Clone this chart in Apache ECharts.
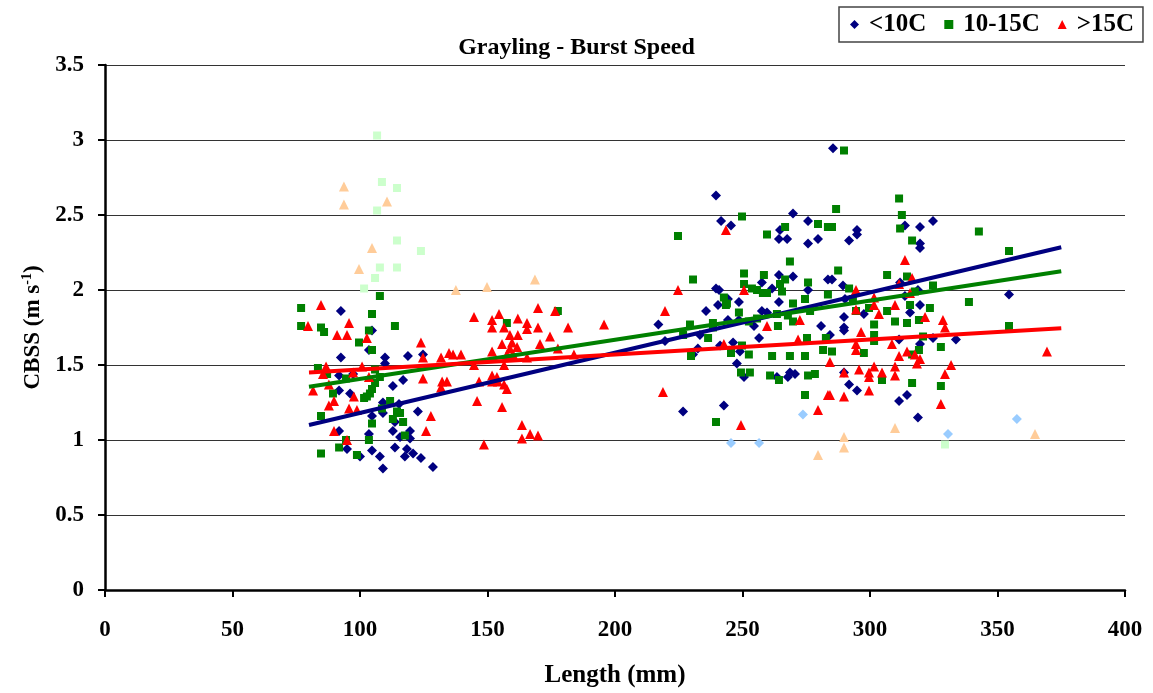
<!DOCTYPE html>
<html><head><meta charset="utf-8">
<script src="https://cdn.jsdelivr.net/npm/echarts@6/dist/echarts.min.js"></script>
<style>html,body{margin:0;padding:0;background:#fff}#c{width:1153px;height:693px}</style>
</head><body><div id="c"></div>
<script>
const xTicks = [0,50,100,150,200,250,300,350,400];
const yTicks = [0,0.5,1,1.5,2,2.5,3,3.5];
const legendNames = ['<10C','10-15C','>15C'];

const below10 = [
[92.5,1.86],[104.7,1.73],[103.5,1.60],[92.5,1.55],[109.8,1.55],[109.8,1.51],[118.8,1.56],[124.7,1.57],[91.8,1.43],[97.3,1.44],[91.8,1.33],[96.1,1.31],[112.9,1.36],[116.9,1.40],[109.0,1.25],[115.3,1.24],[122.7,1.19],[109.0,1.18],[104.7,1.16],[113.7,1.12],[112.9,1.06],[119.6,1.06],[91.8,1.06],[103.5,1.04],[119.6,1.01],[115.7,1.02],[94.9,0.94],[104.7,0.93],[113.7,0.95],[118.4,0.94],[100,0.89],[107.8,0.89],[117.6,0.89],[120.8,0.91],[123.9,0.88],[109,0.81],[128.6,0.82],
[217,1.77],[226.7,1.19],
[239.6,2.63],[241.6,2.46],[245.5,2.43],[269.8,2.51],[275.7,2.46],[264.7,2.40],[264.3,2.34],[267.5,2.34],[275.7,2.31],[279.6,2.34],[264.3,2.10],[269.8,2.09],[239.6,2.01],[240.8,2.0],[257.6,2.05],[261.6,2.01],[275.7,2.0],[283.5,2.07],[248.6,1.92],[264.3,1.92],[244.3,1.94],
[235.7,1.86],[240.4,1.90],[257.6,1.86],[259.6,1.85],[244.3,1.80],[248.6,1.80],[254.5,1.76],[280.8,1.76],[219.6,1.66],[233.3,1.70],[256.5,1.68],[232.5,1.61],[241.2,1.63],[246.3,1.65],[249,1.59],[230.6,1.57],[247.8,1.51],[250.6,1.42],[263.5,1.42],[267.8,1.42],[268.6,1.45],[270.6,1.44],[242.7,1.23],
[285.5,2.945],[294.9,2.40],[294.9,2.37],[291.8,2.33],[313.7,2.43],[319.6,2.42],[324.7,2.46],[319.6,2.31],[319.6,2.28],[285.1,2.07],[289.4,2.03],[290.2,1.94],[311.8,2.05],[313.7,1.96],[318.8,2.0],[319.6,1.90],
[289.8,1.82],[297.6,1.84],[315.7,1.85],[289.8,1.75],[289.8,1.73],[284.3,1.70],[311.4,1.67],[319.6,1.64],[324.7,1.68],[333.7,1.67],[289.8,1.45],[291.8,1.37],[294.9,1.33],[314.5,1.30],[311.4,1.26],[318.8,1.15],[354.5,1.97]
];
const from10to15 = [
[107.8,1.96],[76.9,1.88],[104.7,1.84],[76.9,1.76],[84.7,1.75],[85.9,1.72],[113.7,1.76],[103.5,1.73],[99.6,1.65],[104.7,1.60],[83.5,1.48],[105.9,1.47],[87.1,1.44],[94.5,1.41],[107.8,1.42],[105.9,1.38],[104.7,1.34],[89.4,1.31],[103.9,1.31],[102.7,1.29],[101.6,1.28],[111.8,1.26],[108.6,1.21],[84.7,1.16],[114.5,1.19],[115.7,1.18],[112.9,1.14],[116.9,1.12],[104.7,1.11],[117.6,1.03],[103.5,1.0],[94.5,1.0],[91.8,0.95],[84.7,0.91],[98.8,0.90],
[157.6,1.78],[177.6,1.86],
[224.7,2.36],[249.8,2.49],[266.7,2.42],[259.6,2.37],[279.6,2.44],[283.5,2.42],[268.6,2.19],[230.6,2.07],[250.6,2.11],[258.4,2.10],[250.6,2.04],[266.7,2.07],[264.7,2.04],[275.7,2.05],[253.7,2.01],[255.7,2.0],[258,1.98],[259.6,1.98],[265.5,1.99],[242.7,1.95],[243.9,1.91],[269.8,1.91],[274.5,1.94],[283.5,1.97],
[243.5,1.90],[248.6,1.85],[263.5,1.84],[267.8,1.83],[276.5,1.86],[229.4,1.77],[238.4,1.78],[238.4,1.75],[252.5,1.79],[255.7,1.81],[263.9,1.76],[269.8,1.79],[226.7,1.70],[236.5,1.68],[275.3,1.68],[282.7,1.68],[281.6,1.60],[249.8,1.63],[229.8,1.56],[245.5,1.58],[252.5,1.57],[261.6,1.56],[268.6,1.56],[274.5,1.56],[249.4,1.45],[252.9,1.45],[260.8,1.43],[264.3,1.40],[275.7,1.43],[278.4,1.44],[274.5,1.30],[239.6,1.12],
[289.8,2.93],[311.4,2.61],[286.7,2.54],[312.5,2.50],[285.1,2.42],[311.8,2.41],[342.7,2.39],[316.5,2.33],[287.5,2.13],[306.7,2.10],[314.5,2.09],[324.7,2.03],[291.8,2.01],[317.6,1.99],[293.3,1.94],[338.8,1.92],[315.7,1.90],
[294.5,1.86],[299.6,1.88],[306.7,1.86],[323.5,1.88],[301.6,1.77],[309.8,1.79],[314.5,1.78],[319.2,1.80],[301.6,1.70],[301.6,1.66],[320.8,1.69],[327.8,1.62],[285.1,1.59],[297.6,1.58],[319.2,1.60],[316.5,1.57],[304.7,1.40],[316.5,1.38],[327.8,1.36],
[354.5,2.26],[354.5,1.76]
];
const above15 = [
[84.7,1.90],[95.7,1.78],[79.6,1.76],[91,1.70],[94.9,1.70],[102.7,1.68],[123.9,1.65],[124.7,1.55],[131.8,1.55],[134.9,1.58],[136.5,1.57],[86.7,1.49],[100.8,1.49],[85.5,1.44],[97.3,1.45],[103.5,1.42],[124.7,1.41],[132.2,1.39],[134.1,1.39],[131.8,1.35],[87.8,1.37],[81.6,1.33],[97.6,1.29],[89.8,1.26],[87.8,1.23],[95.7,1.21],[98.8,1.20],[127.8,1.16],[89.8,1.06],[125.9,1.06],[94.9,1.0],
[169.8,1.88],[176.5,1.86],[144.7,1.82],[154.5,1.84],[151.8,1.80],[161.9,1.81],[165.5,1.78],[151.8,1.75],[156.5,1.75],[165.5,1.74],[169.8,1.75],[181.6,1.75],[195.7,1.77],[158.8,1.70],[161.9,1.70],[174.5,1.69],[159.6,1.65],[155.7,1.64],[170.6,1.64],[161.6,1.62],[158.8,1.61],[151.8,1.59],[177.6,1.61],[157.6,1.57],[160,1.57],[139.6,1.57],[165.5,1.55],[183.9,1.57],[144.7,1.50],[156.5,1.50],[151.8,1.43],[153.7,1.42],[146.7,1.39],[151.8,1.39],[154.1,1.39],[156.5,1.37],[157.6,1.34],[145.9,1.26],[155.7,1.22],[163.5,1.10],[163.5,1.01],[166.7,1.04],[169.8,1.03],[148.6,0.97],
[219.6,1.86],[218.8,1.32],[243.5,2.40],[224.7,2.0],[250.6,2.0],[272.5,1.80],[259.6,1.76],[271.8,1.67],[242.7,1.64],[279.6,1.20],[249.4,1.10],[283.5,1.30],
[313.7,2.20],[311.4,2.04],[316.5,2.08],[294.5,2.0],[301.6,1.95],[315.7,1.98],[309.8,1.90],[301.6,1.90],
[294.5,1.87],[303.5,1.84],[321.6,1.82],[328.6,1.80],[329.4,1.75],[296.5,1.72],[294.5,1.64],[294.5,1.60],[308.6,1.64],[314.5,1.59],[317.6,1.57],[311.4,1.56],[319.6,1.54],[318.4,1.51],[284.3,1.52],[331.8,1.50],[295.7,1.47],[301.6,1.49],[309.8,1.49],[289.8,1.45],[299.6,1.45],[304.7,1.45],[309.8,1.43],[299.6,1.42],[329.4,1.44],[284.3,1.30],[289.8,1.29],[299.6,1.33],[327.8,1.24],[369.4,1.59]
];
const below10Excluded = [[273.7,1.17],[245.5,0.98],[256.5,0.98],[330.6,1.04],[357.6,1.14]];
const from10to15Excluded = [[106.7,3.03],[108.6,2.72],[114.5,2.68],[106.7,2.53],[114.5,2.33],[123.9,2.26],[107.8,2.15],[114.5,2.15],[105.9,2.08],[101.6,2.01],[329.4,0.97]];
const above15Excluded = [[93.7,2.69],[93.7,2.57],[110.6,2.59],[104.7,2.28],[99.6,2.14],[137.6,2.0],[149.8,2.02],[168.6,2.07],[279.6,0.90],[289.8,1.02],[289.8,0.95],[309.8,1.08],[364.7,1.04]];
const below10Trend = [[80,1.10],[375,2.285]];
const from10to15Trend = [[80,1.355],[375,2.125]];
const above15Trend = [[80,1.45],[375,1.745]];

const FONT = '"Liberation Serif","DejaVu Serif",serif';
const chart = echarts.init(document.getElementById('c'));
function sc(name, data, color, symbol, size){
  return {name, type:'scatter', data, symbol, symbolSize:size, itemStyle:{color, opacity:1}, z:2, animation:false, silent:true};
}
function ln(data, color){
  return {type:'line', data, symbol:'none', lineStyle:{color, width:4}, z:5, animation:false, silent:true};
}
chart.setOption({
  animation:false,
  backgroundColor:'#fff',
  title:{text:'Grayling - Burst Speed', left:'center', top:31, textStyle:{fontFamily:FONT, fontWeight:'bold', fontSize:24, color:'#000'}},
  legend:{data:[{name:legendNames[0], icon:'diamond'},{name:legendNames[1], icon:'rect'},{name:legendNames[2], icon:'triangle'}],
    left:839, top:7, itemWidth:9, itemHeight:9, itemGap:18, padding:[5,9,5,11],
    borderColor:'#444', borderWidth:1.5,
    textStyle:{fontFamily:FONT, fontWeight:'bold', fontSize:25, color:'#000', padding:[0,0,0,5]}},
  grid:{left:105, right:28, top:65, bottom:98, containLabel:false},
  xAxis:{type:'value', min:0, max:400, interval:50,
    name:'Length (mm)', nameLocation:'middle', nameGap:73,
    nameTextStyle:{fontFamily:FONT, fontWeight:'bold', fontSize:25, color:'#000'},
    axisLine:{show:true, onZero:false, lineStyle:{color:'#000', width:2.5}},
    axisTick:{show:true, inside:false, length:7, lineStyle:{color:'#000', width:2}},
    axisLabel:{fontFamily:FONT, fontWeight:'bold', fontSize:23, color:'#000', margin:29, formatter:v=>String(v)},
    splitLine:{show:false}},
  yAxis:{type:'value', min:0, max:3.5, interval:0.5,
    name:'CBSS (m s{sup|-1})', nameLocation:'middle', nameGap:52, nameRotate:90,
    nameTextStyle:{fontFamily:FONT, fontWeight:'bold', fontSize:23, color:'#000',
      rich:{sup:{fontFamily:FONT, fontWeight:'bold', fontSize:14, color:'#000', verticalAlign:'top', padding:[0,0,10,0]}}},
    axisLine:{show:true, lineStyle:{color:'#000', width:2.5}},
    axisTick:{show:true, inside:false, length:7, lineStyle:{color:'#000', width:2}},
    axisLabel:{fontFamily:FONT, fontWeight:'bold', fontSize:23, color:'#000', margin:21, formatter:v=>String(v)},
    splitLine:{show:true, lineStyle:{color:'#333', width:1}}},
  series:[
    sc('exA', below10Excluded, '#99CCFF', 'diamond', 10),
    sc('exB', from10to15Excluded, '#CCFFCC', 'rect', 8),
    sc('exC', above15Excluded, '#FFCC99', 'triangle', 10),
    sc(legendNames[0], below10, '#000080', 'diamond', 10),
    sc(legendNames[1], from10to15, '#008000', 'rect', 8),
    sc(legendNames[2], above15, '#FF0000', 'triangle', 10),
    ln(below10Trend, '#000080'),
    ln(from10to15Trend, '#008000'),
    ln(above15Trend, '#FF0000')
  ]
});
</script></body></html>
